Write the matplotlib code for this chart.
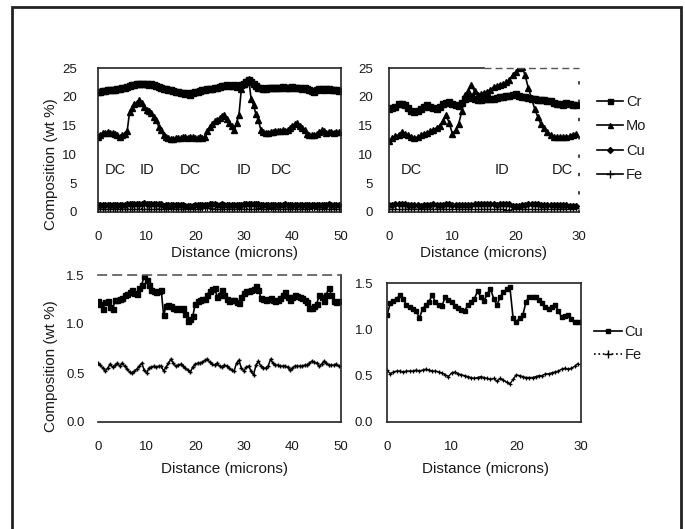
import numpy as np
import matplotlib
matplotlib.use("Agg")
import matplotlib.pyplot as plt
from matplotlib.lines import Line2D
from matplotlib.patches import Rectangle

plt.rcParams['font.family'] = ['Liberation Sans', 'DejaVu Sans']

# ---------------- data ----------------
# 50-micron profile (step 0.5 micron)
dist_a = np.arange(100) * 0.5
cr_a = [20.8, 20.9, 21.0, 21.0, 21.1, 21.1, 21.2, 21.2, 21.3, 21.4,
        21.5, 21.6, 21.7, 21.9, 22.0, 22.1, 22.2, 22.3, 22.2, 22.3,
        22.2, 22.1, 22.2, 22.0, 21.9, 21.7, 21.6, 21.4, 21.3, 21.2,
        21.1, 21.0, 20.9, 20.9, 20.7, 20.6, 20.5, 20.6, 20.3, 20.6,
        20.8, 20.9, 21.0, 21.1, 21.2, 21.3, 21.4, 21.4, 21.6, 21.6,
        21.7, 21.8, 21.9, 22.0, 21.8, 21.9, 22.0, 21.7, 21.8, 22.1,
        22.3, 22.6, 22.9, 22.6, 22.2, 21.9, 21.6, 21.5, 21.4, 21.4,
        21.5, 21.5, 21.6, 21.6, 21.5, 21.6, 21.7, 21.6, 21.5, 21.6,
        21.7, 21.6, 21.6, 21.5, 21.4, 21.5, 21.3, 21.2, 21.0, 20.9,
        21.2, 21.3, 21.4, 21.2, 21.3, 21.4, 21.2, 21.1, 21.2, 21.0]
mo_a = [13.0, 13.4, 13.8, 13.7, 13.9, 13.8, 13.7, 13.5, 13.3, 13.0,
        13.3, 13.6, 14.0, 17.4, 18.0, 18.8, 19.0, 19.4, 19.0, 18.2,
        17.7, 17.5, 17.2, 16.5, 16.0, 14.8, 14.2, 13.3, 13.0, 12.8,
        12.7, 12.6, 12.8, 12.9, 12.8, 13.0, 13.0, 12.9, 13.1, 13.0,
        12.8, 12.9, 13.0, 12.8, 13.0, 14.0, 14.8, 15.3, 15.8, 16.0,
        16.3, 16.6, 16.8, 16.2, 15.5, 15.0, 14.2, 15.5, 16.8, 21.4,
        22.2, 22.8, 23.1, 19.7, 18.5, 17.0, 15.9, 14.3, 13.9, 13.8,
        13.8, 13.9, 13.9, 14.0, 14.0, 14.1, 14.2, 14.1, 14.3, 14.6,
        15.0, 15.3, 15.4, 15.0, 14.6, 14.2, 13.6, 13.3, 13.4, 13.3,
        13.5, 13.9, 14.2, 14.0, 13.8, 13.9, 13.9, 13.8, 13.9, 13.9]
cu_a = [1.23, 1.20, 1.15, 1.22, 1.23, 1.17, 1.15, 1.24, 1.25, 1.26,
        1.27, 1.30, 1.31, 1.33, 1.35, 1.32, 1.31, 1.37, 1.40, 1.49,
        1.45, 1.40, 1.35, 1.34, 1.33, 1.34, 1.35, 1.09, 1.18, 1.19,
        1.18, 1.16, 1.15, 1.16, 1.15, 1.16, 1.10, 1.03, 1.05, 1.08,
        1.20, 1.23, 1.25, 1.26, 1.26, 1.30, 1.34, 1.36, 1.37, 1.28,
        1.30, 1.35, 1.30, 1.26, 1.23, 1.24, 1.25, 1.22, 1.21, 1.28,
        1.32, 1.34, 1.34, 1.35, 1.36, 1.39, 1.35, 1.27, 1.26, 1.25,
        1.26, 1.27, 1.25, 1.23, 1.25, 1.27, 1.30, 1.33, 1.28, 1.25,
        1.28, 1.30, 1.29, 1.28, 1.27, 1.25, 1.22, 1.16, 1.16, 1.18,
        1.20, 1.30, 1.28, 1.23, 1.30, 1.37, 1.30, 1.23, 1.22, 1.23]
fe_a = [0.60, 0.58, 0.55, 0.52, 0.55, 0.59, 0.56, 0.58, 0.60, 0.57,
        0.60, 0.57, 0.54, 0.51, 0.50, 0.52, 0.54, 0.57, 0.60, 0.53,
        0.50, 0.55, 0.56, 0.57, 0.56, 0.57, 0.57, 0.52, 0.56, 0.60,
        0.64, 0.60, 0.57, 0.58, 0.59, 0.57, 0.55, 0.53, 0.51, 0.56,
        0.59, 0.60, 0.60, 0.61, 0.63, 0.64, 0.61, 0.59, 0.58, 0.60,
        0.57, 0.56, 0.58, 0.57, 0.55, 0.53, 0.52, 0.60, 0.63, 0.55,
        0.52, 0.56, 0.57, 0.52, 0.48, 0.58, 0.62, 0.57, 0.55, 0.55,
        0.57, 0.64, 0.60, 0.58, 0.58, 0.57, 0.57, 0.57, 0.56, 0.53,
        0.55, 0.57, 0.57, 0.57, 0.57, 0.58, 0.58, 0.60, 0.62, 0.61,
        0.60, 0.57, 0.59, 0.62, 0.60, 0.58, 0.58, 0.58, 0.59, 0.57]

# 30-micron profile (step 0.5 micron)
dist_b = np.arange(60) * 0.5
cr_b = [17.9, 18.0, 18.2, 18.8, 18.8, 18.6, 18.0, 17.5, 17.4, 17.5,
        17.8, 18.2, 18.5, 18.3, 18.0, 17.9, 18.2, 18.8, 19.0, 19.1,
        18.8, 18.5, 18.4, 19.0, 19.7, 19.8, 20.0, 19.6, 19.4, 19.5,
        19.6, 19.6, 19.7, 19.7, 19.8, 19.9, 20.0, 20.1, 20.2, 20.3,
        20.4, 20.2, 20.0, 19.9, 19.8, 19.7, 19.6, 19.5, 19.5, 19.4,
        19.3, 19.2, 19.0, 18.8, 18.7, 18.6, 18.9, 18.8, 18.6, 18.5]
mo_b = [12.4, 12.8, 13.2, 13.4, 13.9, 13.6, 13.3, 13.0, 12.9, 13.0,
        13.3, 13.6, 13.8, 14.0, 14.3, 14.6, 15.0, 15.8, 16.8, 15.5,
        13.6, 14.2, 15.3, 17.5, 20.3, 21.0, 22.0, 21.0, 20.3, 20.5,
        20.6, 20.9, 21.2, 21.7, 21.8, 22.0, 22.3, 22.5, 23.0, 23.7,
        24.3, 25.0, 25.2, 23.7, 21.5, 19.8, 17.9, 16.5, 15.2, 14.5,
        13.9, 13.4, 13.0, 13.0, 13.0, 13.1, 13.1, 13.2, 13.4, 13.6]
cu_b = [1.15, 1.28, 1.31, 1.33, 1.37, 1.33, 1.26, 1.24, 1.22, 1.20,
        1.12, 1.22, 1.26, 1.30, 1.37, 1.29, 1.26, 1.25, 1.35, 1.32,
        1.29, 1.25, 1.23, 1.21, 1.20, 1.26, 1.30, 1.33, 1.41, 1.35,
        1.31, 1.38, 1.44, 1.33, 1.26, 1.35, 1.40, 1.43, 1.46, 1.12,
        1.08, 1.12, 1.15, 1.30, 1.35, 1.35, 1.35, 1.32, 1.28, 1.24,
        1.22, 1.24, 1.26, 1.20, 1.13, 1.14, 1.15, 1.11, 1.08, 1.08]
fe_b = [0.56, 0.52, 0.54, 0.55, 0.55, 0.54, 0.55, 0.55, 0.55, 0.56,
        0.55, 0.56, 0.57, 0.56, 0.55, 0.55, 0.54, 0.53, 0.51, 0.49,
        0.53, 0.54, 0.52, 0.51, 0.50, 0.49, 0.48, 0.47, 0.48, 0.49,
        0.48, 0.47, 0.46, 0.47, 0.44, 0.47, 0.45, 0.43, 0.41, 0.46,
        0.51, 0.50, 0.49, 0.48, 0.48, 0.48, 0.49, 0.50, 0.50, 0.52,
        0.52, 0.53, 0.54, 0.55, 0.57, 0.58, 0.57, 0.58, 0.60, 0.63]

labels_a = ["DC", "ID", "DC", "ID", "DC"]
labels_a_x = [3.5, 10.0, 19.0, 30.0, 37.7]
labels_b = ["DC", "ID", "DC"]
labels_b_x = [3.6, 17.8, 27.3]
label_y = 7.3

xt_a = [0, 10, 20, 30, 40, 50]
xt_b = [0, 10, 20, 30]
yt_top = [0, 5, 10, 15, 20, 25]
yt_bot = [0.0, 0.5, 1.0, 1.5]

# ---------------- figure ----------------
W, H = 685, 529
fig = plt.figure(figsize=(W / 100, H / 100), dpi=100)
fig.patch.set_facecolor('white')

def ax_px(x0, y0, x1, y1):
    return fig.add_axes([x0 / W, 1 - y1 / H, (x1 - x0) / W, (y1 - y0) / H])

FS_T = 9.5   # tick labels
FS_L = 11    # axis labels
FS_G = 10.5  # legend / annotations
K = 'black'
TXT = '#1a1a1a'

ax_tl = ax_px(98, 68, 341, 212)
ax_tr = ax_px(389, 68, 579, 212)
ax_bl = ax_px(98, 275, 341, 422)
ax_br = ax_px(387, 283, 581, 422)

def style(ax, xt, yt, xmax, ymax, ypad, xpad, lpad, lx, fmt=None):
    ax.set_xlim(0, xmax)
    ax.set_ylim(0, ymax)
    ax.set_xticks(xt)
    ax.set_yticks(yt)
    if fmt:
        ax.set_yticklabels([fmt.format(v) for v in yt])
    ax.tick_params(axis='x', length=0, pad=xpad, labelsize=FS_T, labelcolor=TXT)
    ax.tick_params(axis='y', length=0, pad=ypad, labelsize=FS_T, labelcolor=TXT)
    for s in ax.spines.values():
        s.set_linewidth(1.2)
        s.set_color('#222222')
    ax.set_xlabel("Distance (microns)", fontsize=FS_L, labelpad=lpad, color=TXT)
    ax.xaxis.label.set_x(lx)

def plot4(ax, d, cr, mo, cu, fe):
    ax.plot(d, cr, color=K, lw=1.3, marker='s', ms=4.2, mec=K, mfc=K)
    ax.plot(d, mo, color=K, lw=1.2, marker='^', ms=3.8, mec=K, mfc=K)
    ax.plot(d, cu, color=K, lw=1.2, marker='D', ms=3.0, mec=K, mfc=K)
    ax.plot(d, fe, color=K, lw=0.9, ls=':', marker='+', ms=4.5, mew=0.9)

plot4(ax_tl, dist_a, cr_a, mo_a, cu_a, fe_a)
plot4(ax_tr, dist_b, cr_b, mo_b, cu_b, fe_b)

ax_bl.plot(dist_a, cu_a, color=K, lw=1.2, marker='s', ms=3.6, mec=K, mfc=K)
ax_bl.plot(dist_a, fe_a, color=K, lw=1.1, marker='+', ms=3.5, mew=1.0)
ax_br.plot(dist_b, cu_b, color=K, lw=1.2, marker='s', ms=3.4, mec=K, mfc=K)
ax_br.plot(dist_b, fe_b, color=K, lw=1.0, marker='+', ms=3.5, mew=0.9)

style(ax_tl, xt_a, yt_top, 50, 25, 15, 13.5, 2, 0.56)
style(ax_tr, xt_b, yt_top, 30, 25, 11.5, 13.5, 2, 0.5)
style(ax_bl, xt_a, yt_bot, 50, 1.5, 9.5, 13.5, 6.5, 0.52, "{:.1f}")
style(ax_br, xt_b, yt_bot, 30, 1.5, 10, 13.5, 6.5, 0.51, "{:.1f}")

for t, x in zip(labels_a, labels_a_x):
    ax_tl.text(x, label_y, t, ha='center', va='center', fontsize=FS_G, color=TXT)
for t, x in zip(labels_b, labels_b_x):
    ax_tr.text(x, label_y, t, ha='center', va='center', fontsize=FS_G, color=TXT)

# scanned-frame look of some spines
ax_tr.spines['right'].set_linestyle((0, (1, 10)))
ax_tr.spines['top'].set_visible(False)
ax_tr.plot([0, 0.5], [1, 1], transform=ax_tr.transAxes, color='#222222', lw=1.2, clip_on=False)
ax_tr.plot([0.5, 1], [1, 1], transform=ax_tr.transAxes, color='#555555', lw=1.0,
           ls=(0, (5, 3)), clip_on=False)
ax_bl.spines['left'].set_visible(False)
ax_bl.spines['top'].set_linestyle((0, (5, 4)))
ax_bl.spines['top'].set_color('#555555')

# y labels
fig.text(51 / W, 1 - 164 / H, "Composition (wt %)", rotation=90, ha='center', va='center',
         fontsize=FS_L, color=TXT)
fig.text(51 / W, 1 - 366 / H, "Composition (wt %)", rotation=90, ha='center', va='center',
         fontsize=FS_L, color=TXT)

# legends
h_top = [Line2D([], [], color=K, lw=1.2, marker='s', ms=3.6),
         Line2D([], [], color=K, lw=1.2, marker='^', ms=3.6),
         Line2D([], [], color=K, lw=1.2, marker='D', ms=3.0),
         Line2D([], [], color=K, lw=1.2, marker='+', ms=6, mew=1.0)]
fig.legend(h_top, ["Cr", "Mo", "Cu", "Fe"], loc='upper left',
           bbox_to_anchor=(597 / W, 1 - 95 / H), frameon=False, fontsize=FS_G,
           handlelength=1.8, handletextpad=0.2, labelspacing=0.72, borderpad=0,
           borderaxespad=0, labelcolor=TXT)
h_bot = [Line2D([], [], color=K, lw=1.2, marker='s', ms=3.2),
         Line2D([], [], color=K, lw=1.2, ls=':', marker='+', ms=6, mew=1.0)]
fig.legend(h_bot, ["Cu", "Fe"], loc='upper left',
           bbox_to_anchor=(594 / W, 1 - 325 / H), frameon=False, fontsize=FS_G,
           handlelength=1.9, handletextpad=0.2, labelspacing=0.62, borderpad=0,
           borderaxespad=0, labelcolor=TXT)

# outer frame
fig.patches.append(Rectangle((12 / W, -0.05), (681 - 12) / W, 1.05 - 6.5 / H,
                             transform=fig.transFigure, fill=False, lw=2.0,
                             edgecolor='#222222'))

fig.savefig("out.png", dpi=100)
